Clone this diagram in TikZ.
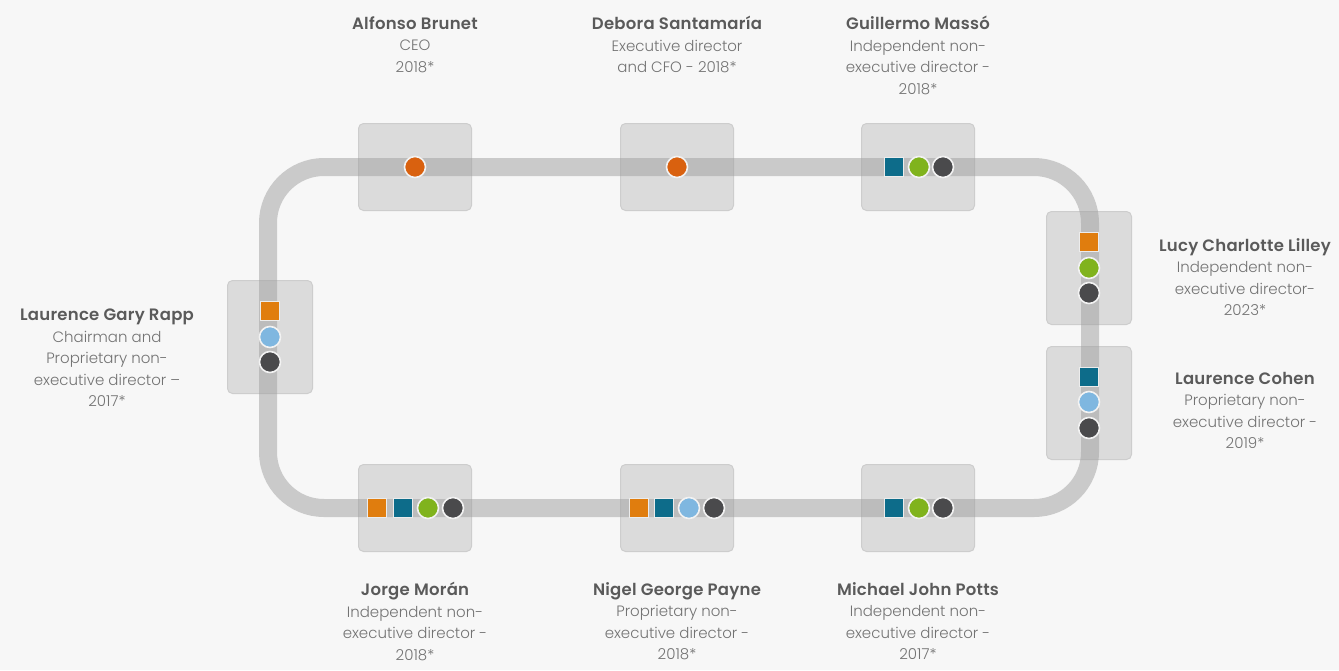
\documentclass[tikz,border=0pt]{standalone}
\usepackage{fontspec}
\setmainfont{Poppins}[UprightFont=* Light, BoldFont=* SemiBold]
\definecolor{bgc}{HTML}{F7F7F7}
\definecolor{boxc}{HTML}{DBDBDB}
\definecolor{boxline}{HTML}{CDCDCD}
\definecolor{trackc}{HTML}{9E9E9E}
\definecolor{txtc}{HTML}{737373}
\definecolor{namec}{HTML}{5A5A5A}
\definecolor{orsq}{HTML}{E07D0E}
\definecolor{ordot}{HTML}{D9610F}
\definecolor{teal}{HTML}{0D6C8A}
\definecolor{lime}{HTML}{80B31D}
\definecolor{sky}{HTML}{7FB7E0}
\definecolor{darkc}{HTML}{4A4A4C}
\newcommand{\persname}[1]{{\fontsize{16.5}{21.5}\selectfont\bfseries\addfontfeatures{LetterSpace=1.5}\color{namec}#1}}
\begin{document}
\begin{tikzpicture}[x=1pt,y=-1pt,
    board/.style={rectangle, rounded corners=5pt, fill=boxc, draw=boxline, line width=1pt},
    wide/.style={board, minimum width=113pt, minimum height=87pt},
    tall/.style={board, minimum width=85pt, minimum height=113pt},
    sq/.style={rectangle, minimum size=19pt, inner sep=0pt, fill=#1, draw=white!85!gray, line width=1.2pt},
    dot/.style={circle, minimum size=21pt, inner sep=0pt, fill=#1, draw=white!90!gray, line width=1.6pt},
    lbl/.style={align=center, text=txtc, font=\fontsize{15}{21.5}\selectfont, inner sep=0pt}]
    % background and size
    \fill[bgc] (0,0) rectangle (1339,670);
    \useasboundingbox (0,0) rectangle (1339,670);

    % boxes
    \node[wide] (alfonso) at (415,167) {};
    \node[wide] (debora) at (677,167) {};
    \node[wide] (guillermo) at (918,167) {};
    \node[tall] (lucy) at (1089,268) {};
    \node[tall] (cohen) at (1089,403) {};
    \node[tall] (rapp) at (270,337) {};
    \node[wide] (jorge) at (415,508) {};
    \node[wide] (nigel) at (677,508) {};
    \node[wide] (michael) at (918,508) {};

    % track
    \draw[trackc, opacity=0.5, line width=18pt, rounded corners=56pt]
        (268,167) rectangle (1090,508);

    % icons top
    \node[dot=ordot] (alfonso1) at (alfonso) {};
    \node[dot=ordot] (debora1) at (debora) {};
    \node[sq=teal] (guillermo1) at (894,167) {};
    \node[dot=lime] (guillermo2) at (919,167) {};
    \node[dot=darkc] (guillermo3) at (943,167) {};

    % icons right
    \node[sq=orsq] (lucy1) at (1089,242) {};
    \node[dot=lime] (lucy2) at (1089,268) {};
    \node[dot=darkc] (lucy3) at (1089,293) {};
    \node[sq=teal] (cohen1) at (1089,377) {};
    \node[dot=sky] (cohen2) at (1089,402) {};
    \node[dot=darkc] (cohen3) at (1089,428) {};

    % icons left
    \node[sq=orsq] (rapp1) at (270,311) {};
    \node[dot=sky] (rapp2) at (270,337) {};
    \node[dot=darkc] (rapp3) at (270,362) {};

    % icons bottom
    \node[sq=orsq] (jorge1) at (377,508) {};
    \node[sq=teal] (jorge2) at (403,508) {};
    \node[dot=lime] (jorge3) at (428,508) {};
    \node[dot=darkc] (jorge4) at (453,508) {};
    \node[sq=orsq] (nigel1) at (639,508) {};
    \node[sq=teal] (nigel2) at (664,508) {};
    \node[dot=sky] (nigel3) at (689,508) {};
    \node[dot=darkc] (nigel4) at (714,508) {};
    \node[sq=teal] (michael1) at (894,508) {};
    \node[dot=lime] (michael2) at (919,508) {};
    \node[dot=darkc] (michael3) at (943,508) {};

    % labels
    \node[lbl, anchor=north] (alfonsoT) at (415,16) {\persname{Alfonso Brunet}\\CEO\\2018*};
    \node[lbl, anchor=north] (deboraT) at (677,16) {\persname{Debora Santamaría}\\Executive director\\and CFO - 2018*};
    \node[lbl, anchor=north] (guillermoT) at (918,16) {\persname{Guillermo Massó}\\Independent non-\\executive director -\\2018*};
    \node[lbl, anchor=north] (lucyT) at (1245,238) {\persname{Lucy Charlotte Lilley}\\Independent non-\\executive director-\\2023*};
    \node[lbl, anchor=north] (cohenT) at (1245,372) {\persname{Laurence Cohen}\\Proprietary non-\\executive director -\\2019*};
    \node[lbl, anchor=north] (rappT) at (107,309) {\persname{Laurence Gary Rapp}\\Chairman and\\Proprietary non-\\executive director --\\2017*};
    \node[lbl, anchor=north] (jorgeT) at (415,582) {\persname{Jorge Morán}\\Independent non-\\executive director -\\2018*};
    \node[lbl, anchor=north] (nigelT) at (677,582) {\persname{Nigel George Payne}\\Proprietary non-\\executive director -\\2018*};
    \node[lbl, anchor=north] (michaelT) at (918,582) {\persname{Michael John Potts}\\Independent non-\\executive director -\\2017*};
\end{tikzpicture}
\end{document}
